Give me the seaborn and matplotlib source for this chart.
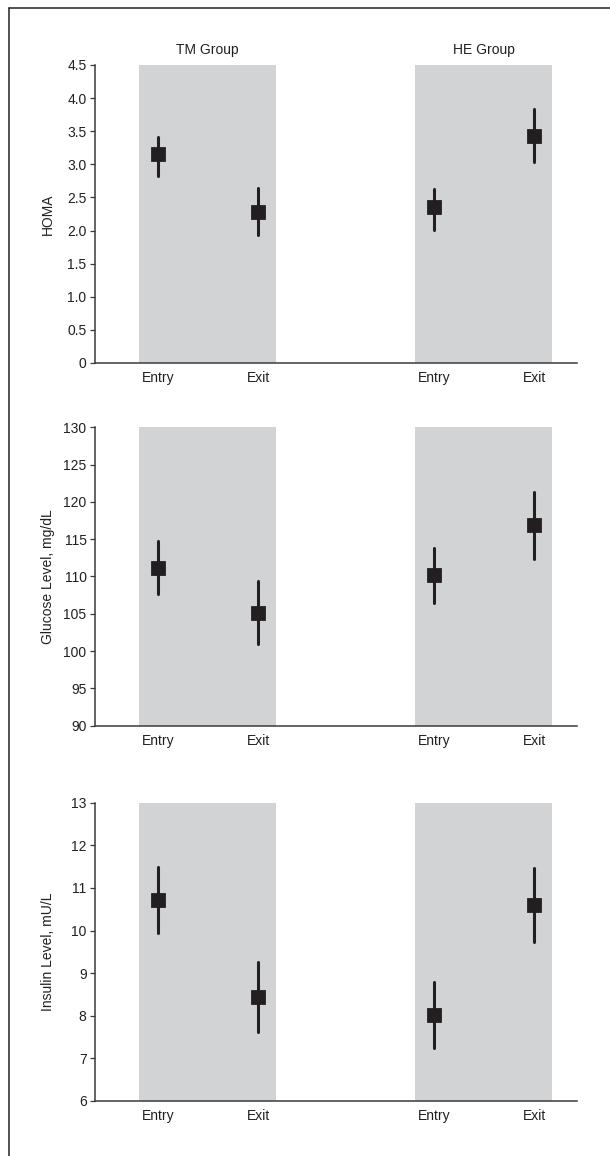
import numpy as np
import pandas as pd
import seaborn as sns
import matplotlib
matplotlib.use("Agg")
import matplotlib.pyplot as plt
from matplotlib.lines import Line2D
from matplotlib.ticker import FuncFormatter

# ---------------- data ----------------
timepoints = ["Entry", "Exit", "Entry", "Exit"]
groups = ["TM Group", "HE Group"]
x_pos = [0.0, 1.0, 2.76, 3.76]          # category positions (TM entry, TM exit, HE entry, HE exit)

homa_mean = [3.15, 2.28, 2.35, 3.43]
homa_low = [2.82, 1.93, 2.01, 3.03]
homa_high = [3.41, 2.65, 2.62, 3.83]

glucose_mean = [111.2, 105.1, 110.2, 116.9]
glucose_low = [107.6, 100.9, 106.5, 112.3]
glucose_high = [114.8, 109.4, 113.8, 121.3]

insulin_mean = [10.71, 8.43, 8.01, 10.60]
insulin_low = [9.94, 7.63, 7.24, 9.73]
insulin_high = [11.48, 9.27, 8.80, 11.46]

ylabels = ["HOMA", "Glucose Level, mg/dL", "Insulin Level, mU/L"]
yticks = [np.arange(0, 4.51, 0.5), np.arange(90, 131, 5), np.arange(6, 14, 1)]
ylims = [(0, 4.5), (90, 130), (6, 13)]

# ---------------- style ----------------
sns.set_theme(style="white")
plt.rcParams["font.family"] = ["Liberation Sans", "DejaVu Sans"]
TXT = "#231f20"
GRAY = "#d1d3d4"
SPINE = "#3a3a3a"
FS = 10

W, H = 610, 1156
fig = plt.figure(figsize=(W / 100, H / 100), dpi=100)

panel_px = [(65, 363), (427.3, 725.7), (802.7, 1101)]
left_px, right_px = 95, 577

series = [
    (homa_mean, homa_low, homa_high),
    (glucose_mean, glucose_low, glucose_high),
    (insulin_mean, insulin_low, insulin_high),
]

for i, ((top, bot), (m, lo, hi)) in enumerate(zip(panel_px, series)):
    ax = fig.add_axes([left_px / W, 1 - bot / H, (right_px - left_px) / W, (bot - top) / H])
    # long table: low/mean/high -> median gives mean, 100% interval gives range
    rows = []
    for xp, a, b, c in zip(x_pos, lo, m, hi):
        for v in (a, b, c):
            rows.append({"x": xp, "value": v})
    df = pd.DataFrame(rows)

    ax.axvspan(-0.19, 1.18, color=GRAY, lw=0, zorder=0)
    ax.axvspan(2.57, 3.94, color=GRAY, lw=0, zorder=0)

    sns.pointplot(data=df, x="x", y="value", native_scale=True,
                  estimator=np.median, errorbar=("pi", 100),
                  linestyle="none", marker="s", markersize=9.3,
                  color=TXT, err_kws={"linewidth": 2.2, "color": TXT},
                  ax=ax, zorder=3)

    ax.set_xlim(-0.63, 4.19)
    ax.set_ylim(*ylims[i])
    ax.set_yticks(yticks[i])
    if i == 0:
        ax.yaxis.set_major_formatter(FuncFormatter(lambda v, p: "0" if v == 0 else f"{v:.1f}"))
    else:
        ax.yaxis.set_major_formatter(FuncFormatter(lambda v, p: f"{int(round(v))}"))
    ax.set_xticks(x_pos)
    ax.set_xticklabels(timepoints)
    ax.set_xlabel("")
    ax.set_ylabel(ylabels[i], fontsize=FS, color=TXT)
    ax.yaxis.set_label_coords(-40 / (right_px - left_px), 0.5)

    ax.tick_params(axis="y", length=3.6, width=0.9, color=SPINE, pad=2.5,
                   labelsize=FS, labelcolor=TXT, left=True)
    ax.tick_params(axis="x", length=0, pad=6, labelsize=FS, labelcolor=TXT)

    for s in ["top", "right"]:
        ax.spines[s].set_visible(False)
    for s in ["left", "bottom"]:
        ax.spines[s].set_color(SPINE)
        ax.spines[s].set_linewidth(1.1)
    ax.set_facecolor("none")
    ax.grid(False)

    if i == 0:
        for g, cx in zip(groups, [0.495, 3.255]):
            ax.text(cx, 1 + 15 / (bot - top), g, transform=ax.get_xaxis_transform(),
                    ha="center", va="center", fontsize=FS, color=TXT)

# partial frame (top and left edges)
fig.add_artist(Line2D([9 / W, 9 / W], [0, 1 - 8 / H], transform=fig.transFigure,
                      color="#222222", lw=1.1))
fig.add_artist(Line2D([9 / W, 1], [1 - 8 / H, 1 - 8 / H], transform=fig.transFigure,
                      color="#222222", lw=1.1))

fig.savefig("out.png", dpi=100)
